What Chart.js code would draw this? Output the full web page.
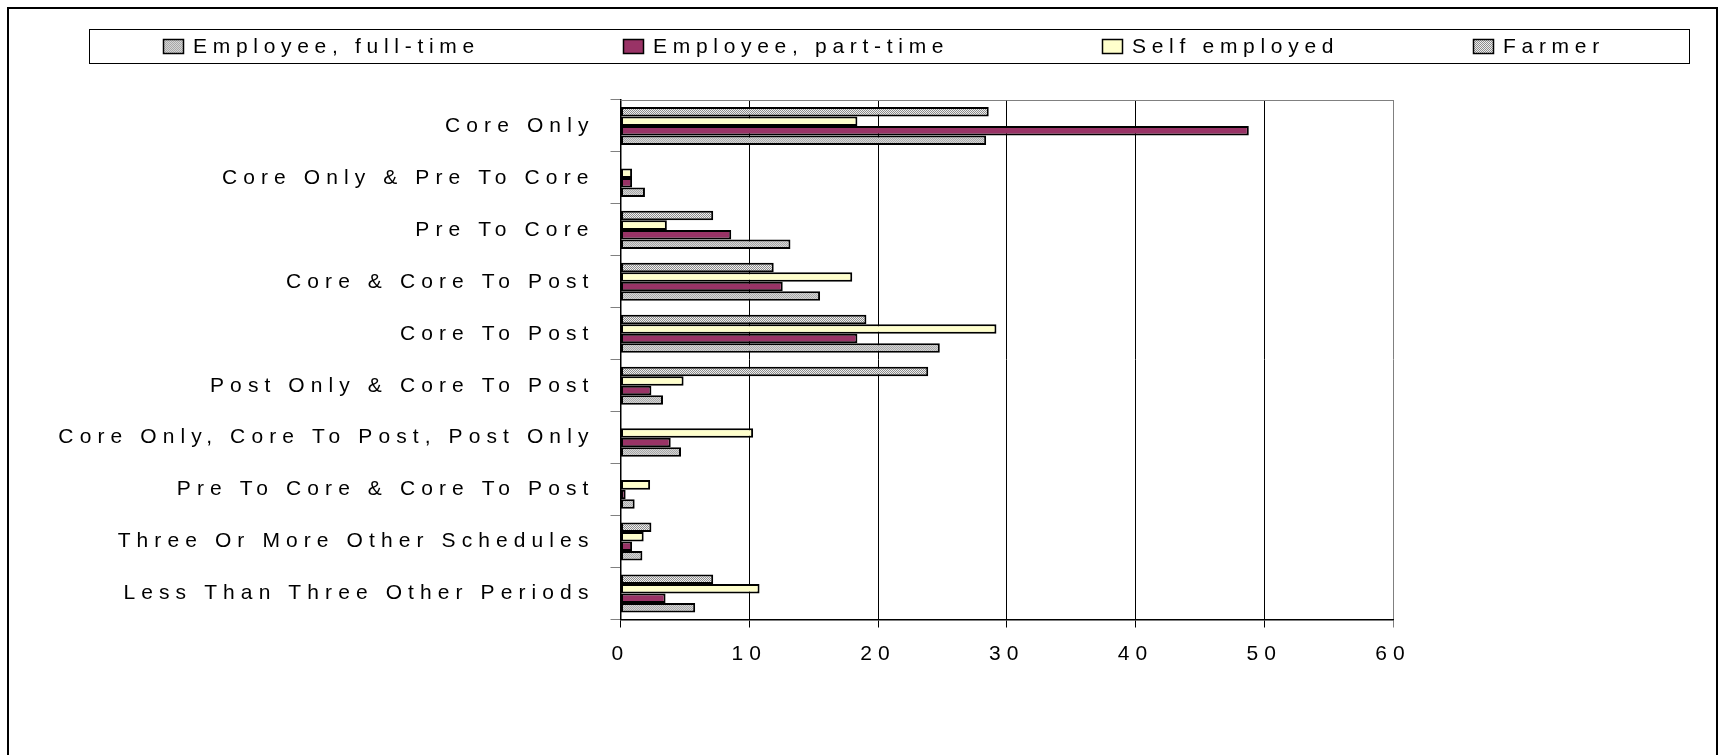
<!DOCTYPE html>
<html>
<head>
<meta charset="utf-8">
<script src="https://cdn.jsdelivr.net/npm/chart.js@4"></script>
<style>
  html, body { margin: 0; padding: 0; background: #fff; }
  #wrap { width: 1726px; height: 755px; }
</style>
</head>
<body>
<div id="wrap"><canvas id="chart" width="1726" height="755"></canvas></div>
<script>
// values (percent)
const categories = [
  'Core Only',
  'Core Only & Pre To Core',
  'Pre To Core',
  'Core & Core To Post',
  'Core To Post',
  'Post Only & Core To Post',
  'Core Only, Core To Post, Post Only',
  'Pre To Core & Core To Post',
  'Three Or More Other Schedules',
  'Less Than Three Other Periods'
];
const fullTime     = [28.4, 1.9, 13.2, 15.5, 24.8, 3.3, 4.7, 1.1, 1.7, 5.8];
const partTime     = [48.8, 0.9, 8.6, 12.6, 18.4, 2.4, 3.9, 0.4, 0.9, 3.5];
const selfEmployed = [18.4, 0.9, 3.6, 18.0, 29.2, 4.9, 10.3, 2.3, 1.8, 10.8];
const farmer       = [28.6, 0, 7.2, 11.9, 19.1, 23.9, 0, 0, 2.4, 7.2];
const xTicks = [0, 10, 20, 30, 40, 50, 60];

const FONT = '"Liberation Sans", Arial, sans-serif';

// little stipple fills like the old office patterns
function stipple(a, b, size) {
  const c = document.createElement('canvas');
  c.width = size; c.height = size;
  const g = c.getContext('2d');
  g.fillStyle = b;
  g.fillRect(0, 0, size, size);
  g.fillStyle = a;
  for (let y = 0; y < size; y++) {
    for (let x = 0; x < size; x++) {
      if ((x + y) % 2 === 0) g.fillRect(x, y, 1, 1);
    }
  }
  return g.createPattern(c, 'repeat');
}
const fullFill = stipple('#a8a8a8', '#d6d6d6', 2);
const farmFill = stipple('#8c8c8c', '#eeeeee', 2);

const frame = {
  id: 'frame',
  beforeDraw(chart) {
    chart.ctx.letterSpacing = '6.1px';
  },
  beforeDatasetsDraw(chart) {
    const {ctx, chartArea: a} = chart;
    ctx.save();
    ctx.strokeStyle = '#808080';
    ctx.lineWidth = 1;
    ctx.beginPath();
    ctx.moveTo(a.left, a.top + 0.5);
    ctx.lineTo(a.right, a.top + 0.5);
    ctx.stroke();
    ctx.restore();
  },
  afterDraw(chart) {
    const ctx = chart.ctx;
    ctx.save();
    // outer frame
    ctx.strokeStyle = '#000';
    ctx.lineWidth = 2;
    ctx.strokeRect(8, 8, 1709, 800);
    // legend box
    ctx.lineWidth = 1;
    ctx.strokeRect(89.5, 29.5, 1600, 34);
    ctx.font = '21px ' + FONT;
    ctx.letterSpacing = '5.7px';
    ctx.textBaseline = 'middle';
    ctx.fillStyle = '#000';
    const legendX = [163, 623, 1102, 1473];
    const ds = chart.data.datasets.slice().reverse();
    ds.forEach((d, i) => {
      const x = legendX[i];
      ctx.fillStyle = d.backgroundColor;
      ctx.fillRect(x, 39, 21, 15);
      ctx.strokeStyle = '#000';
      ctx.lineWidth = 1.5;
      ctx.strokeRect(x + 0.5, 39.5, 20, 14);
      ctx.fillStyle = '#000';
      ctx.fillText(d.label, x + 30, 47);
    });
    ctx.restore();
  }
};

new Chart(document.getElementById('chart'), {
  type: 'bar',
  data: {
    labels: categories,
    datasets: [
      {label: 'Farmer', data: farmer, backgroundColor: farmFill},
      {label: 'Self employed', data: selfEmployed, backgroundColor: '#ffffcc'},
      {label: 'Employee, part-time', data: partTime, backgroundColor: '#993366'},
      {label: 'Employee, full-time', data: fullTime, backgroundColor: fullFill}
    ]
  },
  options: {
    indexAxis: 'y',
    responsive: false,
    animation: false,
    devicePixelRatio: 1,
    layout: {padding: {top: 100, right: 333, left: 0, bottom: 0}},
    datasets: {
      bar: {
        categoryPercentage: 0.733,
        barPercentage: 1,
        borderColor: '#000',
        borderWidth: 2,
        borderSkipped: false
      }
    },
    scales: {
      x: {
        min: 0,
        max: 60,
        afterBuildTicks: s => { s.ticks = xTicks.map(v => ({value: v})); },
        ticks: {color: '#000', font: {family: FONT, size: 21}, padding: 14, maxRotation: 0},
        grid: {
          color: c => (c.tick && c.tick.value === 60) ? '#808080' : '#000',
          lineWidth: 1,
          tickLength: 8
        },
        border: {color: '#000', width: 1.5},
        afterFit: s => { s.height = 135.5; }
      },
      y: {
        offset: true,
        grid: {offset: true, drawOnChartArea: false, tickLength: 10, color: '#808080'},
        border: {color: '#000', width: 1.5},
        ticks: {color: '#000', font: {family: FONT, size: 21}, padding: 16, autoSkip: false},
        afterFit: s => { s.width = 620.5; }
      }
    },
    plugins: {
      legend: {display: false},
      tooltip: {enabled: false}
    }
  },
  plugins: [frame]
});
</script>
</body>
</html>
